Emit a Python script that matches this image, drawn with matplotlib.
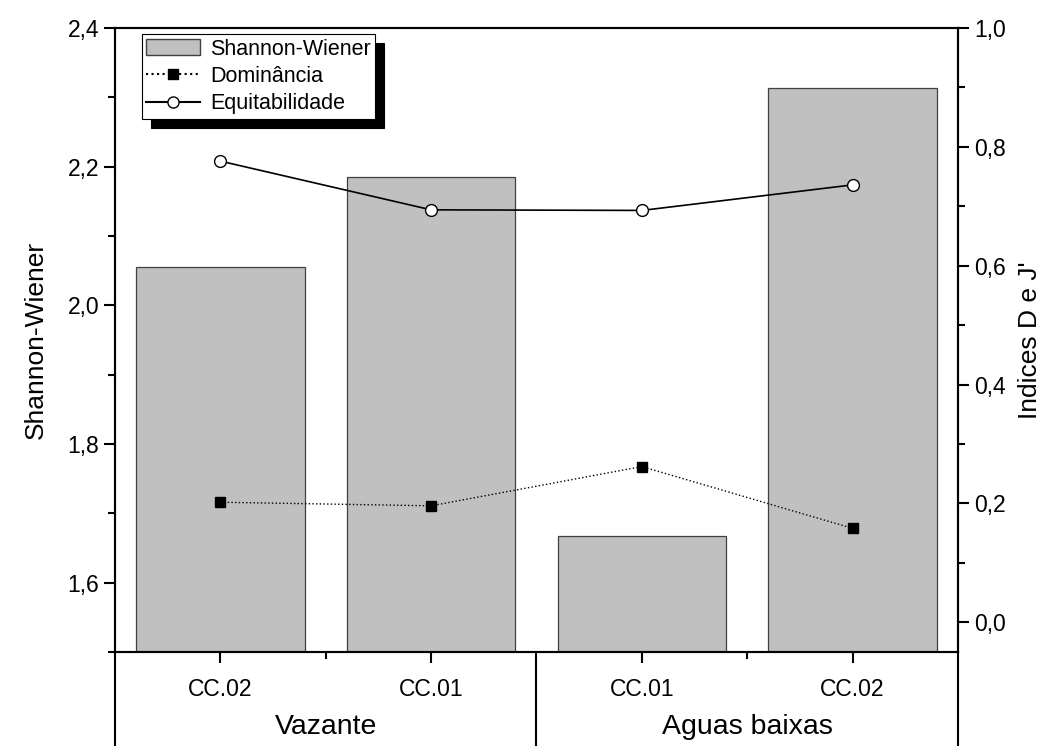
import numpy as np
import matplotlib.pyplot as plt
from matplotlib.ticker import MultipleLocator, FuncFormatter
from matplotlib.lines import Line2D
from matplotlib.patches import Patch

plt.rcParams['font.family'] = ['Liberation Sans', 'DejaVu Sans']

sites = ['CC.02', 'CC.01', 'CC.01', 'CC.02']
groups = ['Vazante', 'Aguas baixas']
shannon = [2.055, 2.185, 1.667, 2.313]
dominancia = [0.202, 0.196, 0.262, 0.158]
equitab = [0.776, 0.694, 0.693, 0.736]

x = np.arange(len(sites))
comma = FuncFormatter(lambda v, p: ('%.1f' % v).replace('.', ','))

fig = plt.figure(figsize=(10.51, 7.46), dpi=100)
ax = fig.add_axes([0.1094, 0.126, 0.8021, 0.8365])
ax2 = ax.twinx()

ax.bar(x, shannon, width=0.8, color='#c0c0c0', edgecolor='#404040', linewidth=0.9)
ax.set_xlim(-0.5, 3.5)
ax.set_ylim(1.5, 2.4)
ax.yaxis.set_major_locator(MultipleLocator(0.2))
ax.yaxis.set_minor_locator(MultipleLocator(0.1))
ax.yaxis.set_major_formatter(comma)
ax.set_ylabel('Shannon-Wiener', fontsize=19, labelpad=14)

ax2.plot(x, dominancia, ls=':', color='black', lw=1, marker='s', ms=7,
         mfc='black', mec='black')
ax2.plot(x, equitab, ls='-', color='black', lw=1.2, marker='o', ms=8.5,
         mfc='white', mec='black', mew=1)
ax2.set_ylim(-0.05, 1.0)
ax2.yaxis.set_major_locator(MultipleLocator(0.2))
ax2.yaxis.set_minor_locator(MultipleLocator(0.1))
ax2.yaxis.set_major_formatter(comma)
ax2.set_ylabel("Indices D e J'", fontsize=19, labelpad=9)

for a in (ax, ax2):
    for s in a.spines.values():
        s.set_linewidth(1.5)
    a.tick_params(which='major', direction='out', length=8, width=1.5, labelsize=16.5)
    a.tick_params(which='minor', direction='out', length=5, width=1.5)

ax.set_xticks(x)
ax.set_xticklabels(sites)
ax.set_xticks([0.5, 2.5], minor=True)
ax.tick_params(axis='x', which='major', pad=11)
ax.tick_params(axis='x', which='minor', length=5)

# group separators below the axis
for xv in [-0.5, 1.5, 3.5]:
    ax.plot([xv, xv], [0, -0.16], transform=ax.get_xaxis_transform(),
            color='black', lw=1.5, clip_on=False)
for i, g in enumerate(groups):
    ax.text(2 * i + 0.5, -0.12, g, transform=ax.get_xaxis_transform(),
            ha='center', va='center', fontsize=20.5)

handles = [Patch(facecolor='#c0c0c0', edgecolor='#404040'),
           Line2D([], [], ls=':', color='black', marker='s', ms=7),
           Line2D([], [], ls='-', color='black', marker='o', ms=8, mfc='white')]
leg = ax2.legend(handles, ['Shannon-Wiener', 'Dominância', 'Equitabilidade'],
                 loc='upper left', bbox_to_anchor=(0.032, 0.99), borderaxespad=0,
                 fancybox=False, edgecolor='black', framealpha=1, fontsize=15.5,
                 handlelength=2.5, handletextpad=0.45, labelspacing=0.3, borderpad=0.2,
                 shadow={'ox': 6.5, 'oy': -6.5, 'color': 'black', 'alpha': 1})
leg.get_frame().set_linewidth(0.8)

fig.savefig('out.png', dpi=100)
